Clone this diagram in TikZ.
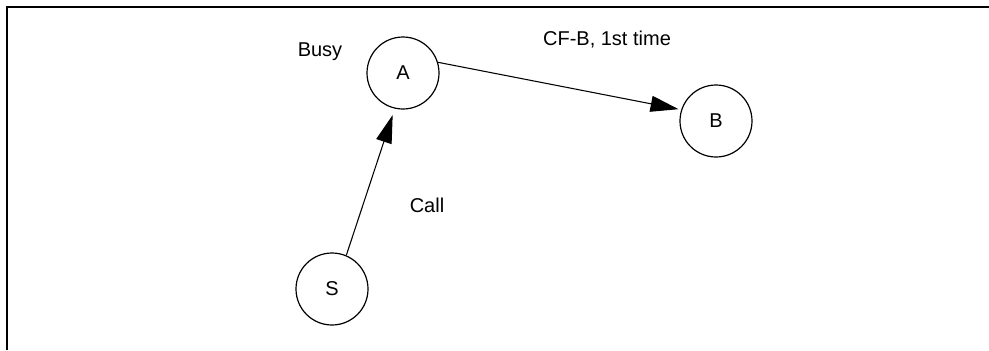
\documentclass[tikz,border=0pt]{standalone}
\usepackage{fontspec}
\setmainfont{Liberation Sans}
\usetikzlibrary{arrows.meta}
\begin{document}
\begin{tikzpicture}[x=0.75pt,y=-0.75pt,
  state/.style={draw,circle,line width=0.9pt,minimum size=54pt,inner sep=0pt,font=\fontsize{15}{18}\selectfont},
  lbl/.style={anchor=base,inner sep=0pt,font=\fontsize{15}{18}\selectfont},
  conn/.style={line width=0.8pt,-{Triangle[length=21pt,width=12pt]}},
  frameline/.style={line width=1.6pt}]
\useasboundingbox (0,0) rectangle (989,350);
\coordinate (fTR) at (989,7);
\coordinate (fTL) at (7,7);
\coordinate (fBL) at (7,350);
\draw[frameline] (fTR) -- (fTL) -- (fBL);
\node[state] (A) at (403,73) {A};
\node[state] (B) at (716,121) {B};
\node[state] (S) at (332,289) {S};
\node[lbl] (busy) at (320,56) {Busy};
\node[lbl] (cfb) at (607,45) {CF-B, 1st time};
\node[lbl] (call) at (427,212.7) {Call};
\draw[conn,shorten >=5pt] (S.67) -- (A.-103);
\draw[conn,shorten >=2pt] (A.17) -- (B.162);
\end{tikzpicture}
\end{document}
